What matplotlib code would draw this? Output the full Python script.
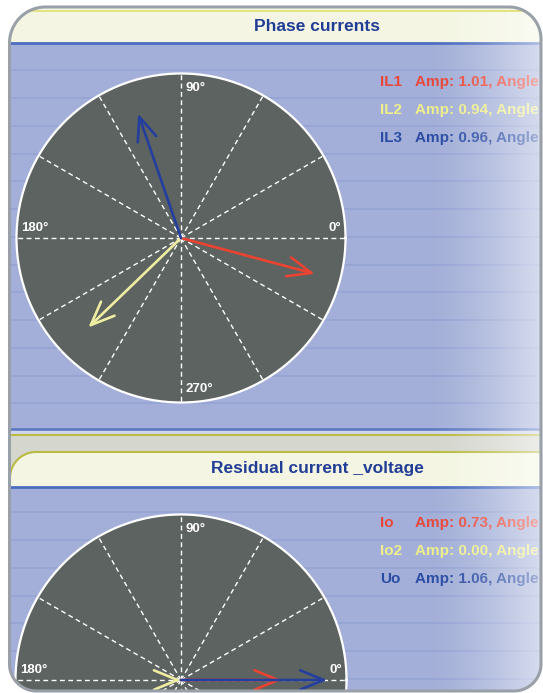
import numpy as np
import matplotlib
matplotlib.use("Agg")
import matplotlib.pyplot as plt
from matplotlib.path import Path
from matplotlib.patches import PathPatch, Rectangle, Polygon

# ---------------- data ----------------
panel_titles = ["Phase currents", "Residual current _voltage"]
phase_names = ["IL1", "IL2", "IL3"]
phase_amps = [1.01, 0.94, 0.96]
phase_angles = [-15, -136, 109]          # degrees, read from the arrows
resid_names = ["Io", "Io2", "Uo"]
resid_amps = [0.73, 0.00, 1.06]
resid_angles = [0, 0, 0]
angle_labels = ["0\u00b0", "90\u00b0", "180\u00b0", "270\u00b0"]
grid_angles = list(range(0, 360, 30))
r_max = 1.2

# ---------------- style ----------------
arrow_colors = ["#ea4331", "#efeda2", "#243e9e"]
text_colors = ["#e8473a", "#eeee8a", "#2a4ca4"]
BLUE = "#a3afd8"
STRIPE = "#96a5d5"
CREAM = "#f4f6e3"
LINE_BLUE = "#4b6dc0"
OLIVE = "#b9bc42"
GREY_BAND = "#d5d6ce"
BORDER = "#9aa0a7"
FACE = "#5d6360"
TITLE_C = "#213d96"
FONT = "Liberation Sans"

W, H = 543, 693
fig = plt.figure(figsize=(W / 100, H / 100), dpi=100)
fig.patch.set_facecolor("white")

bg = fig.add_axes([0, 0, 1, 1], zorder=0)
bg.set_xlim(0, W)
bg.set_ylim(H, 0)
bg.axis("off")

L, R, T, B = 9.5, 541.0, 7.0, 691.0

# panel 1 background
bg.add_patch(Rectangle((L, T), R - L, 43 - T, color=CREAM, lw=0))
bg.plot([L, R], [11, 11], color="#e2e279", lw=1.3, solid_capstyle="butt")
bg.add_patch(Rectangle((L, 43), R - L, 429 - 43, color=BLUE, lw=0))
for y in np.arange(70.3, 428, 27.75):
    bg.plot([L, R], [y, y], color=STRIPE, lw=1.3)
bg.plot([L, R], [43, 43], color=LINE_BLUE, lw=2.0)

# separator
bg.add_patch(Rectangle((L, 429), R - L, 5, color="#cfd6ec", lw=0))
bg.plot([L, R], [429, 429], color="#5875c2", lw=1.8)
bg.add_patch(Rectangle((L, 434), R - L, 52, color=GREY_BAND, lw=0))
bg.plot([L, R], [434.5, 434.5], color=OLIVE, lw=1.5)

# header 2 with rounded top-left corner
a = np.deg2rad(np.linspace(180, 270, 20))
cx, cy, rr = 36.0, 478.0, 26.0
curve = np.column_stack([cx + rr * np.cos(a), cy + rr * np.sin(a)])
top_edge = np.vstack([curve, [[R, 452.0]]])
hdr2 = np.vstack([[[L, 486.0]], top_edge, [[R, 486.0]]])
bg.add_patch(Polygon(hdr2, closed=True, color=CREAM, lw=0))
bg.plot(top_edge[:, 0], top_edge[:, 1], color=OLIVE, lw=1.5)

# panel 2 background
bg.add_patch(Rectangle((L, 487), R - L, B - 487, color=BLUE, lw=0))
for y in np.arange(512.3, B, 27.75):
    bg.plot([L, R], [y, y], color=STRIPE, lw=1.3)
bg.plot([L, R], [486.5, 486.5], color=LINE_BLUE, lw=2.0)

# titles
for title, ty in zip(panel_titles, [26.5, 469.0]):
    bg.text(317, ty, title, ha="center", va="center", fontsize=12.5,
            fontweight="bold", color=TITLE_C, family=FONT)

# ---------------- phasor diagrams ----------------
label_pos = {
    "0\u00b0": (0.986, 0.530, "right"),
    "90\u00b0": (0.515, 0.956, "left"),
    "180\u00b0": (0.013, 0.530, "left"),
    "270\u00b0": (0.515, 0.041, "left"),
}


def phasor_axes(cx, cy, r_px):
    rect = [(cx - r_px) / W, 1 - (cy + r_px) / H, 2 * r_px / W, 2 * r_px / H]
    ax = fig.add_axes(rect, projection="polar", zorder=2)
    ax.set_facecolor(FACE)
    ax.set_ylim(0, r_max)
    ax.set_xticks(np.deg2rad(grid_angles))
    ax.set_xticklabels([])
    ax.set_yticks([])
    ax.tick_params(length=0)
    ax.xaxis.grid(True, color="white", lw=1.0, linestyle=(0, (3.5, 2.5)))
    ax.spines["polar"].set_color("white")
    ax.spines["polar"].set_linewidth(1.6)
    for lab in angle_labels:
        x, y, ha = label_pos[lab]
        # only labels that fall inside the visible panel
        py = cy + r_px * (1 - 2 * y)
        if py + 8 > B:
            continue
        ax.text(x, y, lab, transform=ax.transAxes, ha=ha, va="center",
                color="white", fontsize=9.5, fontweight="bold", family=FONT)
    return ax


def draw_phasors(ax, amps, angles):
    for amp, ang, col in zip(amps, angles, arrow_colors):
        th = np.deg2rad(ang)
        ax.annotate("", xy=(th, amp), xytext=(th + np.pi, 0.002),
                    arrowprops=dict(arrowstyle="->,head_length=1.7,head_width=0.7",
                                    color=col, lw=1.9, shrinkA=0, shrinkB=0,
                                    mutation_scale=10))


ax1 = phasor_axes(181, 238, 164.5)
draw_phasors(ax1, phase_amps, phase_angles)
ax2 = phasor_axes(181, 680, 165.5)
draw_phasors(ax2, resid_amps, resid_angles)

# ---------------- overlay: legends, fade, frame ----------------
ov = fig.add_axes([0, 0, 1, 1], zorder=5)
ov.set_facecolor("none")
ov.axis("off")


def legend_rows(names, amps, y0):
    for i, (nm, amp, col) in enumerate(zip(names, amps, text_colors)):
        y = y0 + i * 28.0
        ov.text(380, y, nm, ha="left", va="center", fontsize=11,
                fontweight="bold", color=col, family=FONT, zorder=1)
        ov.text(415, y, f"Amp: {amp:.2f}, Angle:", ha="left", va="center",
                fontsize=11, fontweight="bold", color=col, family=FONT,
                zorder=1, clip_on=True)


legend_rows(phase_names, phase_amps, 82)
legend_rows(resid_names, resid_amps, 523)

# right-hand fade to white
xs = np.linspace(0, 1, 200)
grad = np.zeros((1, 200, 4))
grad[..., :3] = 1.0
grad[0, :, 3] = 0.58 * xs ** 1.5
ov.imshow(grad, extent=[425, W, B, 12], aspect="auto", interpolation="bilinear",
          zorder=2)


def rounded_rect(l, t, r, b, rtl, rtr, rbr, rbl, n=24):
    def arc(cx, cy, rad, a0, a1):
        aa = np.deg2rad(np.linspace(a0, a1, n))
        return np.column_stack([cx + rad * np.cos(aa), cy + rad * np.sin(aa)])
    return np.vstack([
        arc(l + rtl, t + rtl, rtl, 180, 270),
        arc(r - rtr, t + rtr, rtr, 270, 360),
        arc(r - rbr, b - rbr, rbr, 0, 90),
        arc(l + rbl, b - rbl, rbl, 90, 180),
    ])


inner = rounded_rect(L, T, R, B, 36, 32, 27, 27)
outer = np.array([[-5, -5], [W + 5, -5], [W + 5, H + 5], [-5, H + 5], [-5, -5]])
inner_rev = np.vstack([inner[::-1], inner[-1:]])
verts = np.vstack([outer, inner_rev])
codes = ([Path.MOVETO] + [Path.LINETO] * 3 + [Path.CLOSEPOLY]
         + [Path.MOVETO] + [Path.LINETO] * (len(inner_rev) - 2) + [Path.CLOSEPOLY])
ov.add_patch(PathPatch(Path(verts, codes), facecolor="white", lw=0, zorder=3))
frame = Path(np.vstack([inner, inner[:1]]), closed=True)
ov.add_patch(PathPatch(frame, fill=False, edgecolor=BORDER, lw=2.2, zorder=4))

ov.set_xlim(0, W)
ov.set_ylim(H, 0)

fig.savefig("out.png", dpi=100, facecolor="white")
